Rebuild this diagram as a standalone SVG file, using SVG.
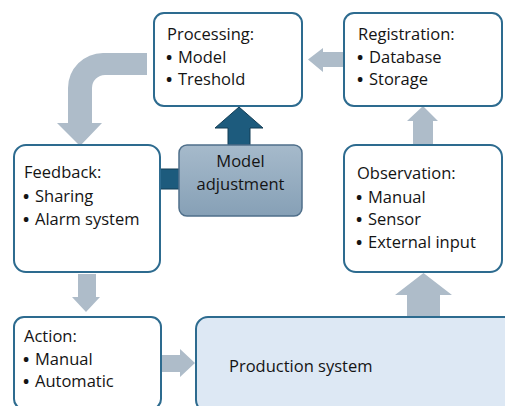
<svg xmlns="http://www.w3.org/2000/svg" width="505" height="406" viewBox="0 0 505 406">
  <defs>
    <linearGradient id="steel" x1="0" y1="0" x2="0" y2="1">
      <stop offset="0" stop-color="#a6bacb"/>
      <stop offset="1" stop-color="#86a0b6"/>
    </linearGradient>
    <style>
      .box { fill: #ffffff; stroke: #2d6b8f; stroke-width: 2; }
      .sys { fill: #dde8f4; stroke: #2d6b8f; stroke-width: 2; }
      .adj { fill: url(#steel); stroke: #4f6f8a; stroke-width: 1.5; }
      .flow { fill: #aebcc9; }
      .dark { fill: #1d5b7d; stroke: #123d55; stroke-width: 1; }
      text { font-family: "Open Sans", "Liberation Sans", sans-serif; font-size: 16.5px; fill: #141414; }
      .b { font-weight: bold; }
      .c { text-anchor: middle; }
    </style>
  </defs>

  <rect width="505" height="406" fill="#ffffff"/>

  <!-- connectors -->
  <g id="connectors">
    <!-- Processing to Feedback (bent) -->
    <path class="flow" d="M147,53 L103,53 A35,35 0 0 0 68,88 L68,123 L57,123 L80,146 L102,123 L92,123 L92,88 A13,13 0 0 1 105,75 L147,75 Z"/>
    <!-- Registration to Processing -->
    <path class="flow" d="M343,52 L323,52 L323,48 L308,59.5 L323,72 L323,67 L343,67 Z"/>
    <!-- Observation to Registration -->
    <path class="flow" d="M413,145 L413,121 L407,121 L423,106 L438,121 L433,121 L433,145 Z"/>
    <!-- Production system to Observation -->
    <path class="flow" d="M407,317 L407,295 L395,295 L423.5,273 L452,295 L440,295 L440,317 Z"/>
    <!-- Feedback to Action -->
    <path class="flow" d="M78,274 L78,297 L72,297 L86,312 L100,297 L96,297 L96,274 Z"/>
    <!-- Action to Production system -->
    <path class="flow" d="M162,355 L180,355 L180,349 L195,363 L180,377 L180,372 L162,372 Z"/>
    <!-- Model adjustment to Processing -->
    <path class="dark" d="M228,145 L228,128 L215,128 L239,107 L263,128 L250,128 L250,145 Z"/>
    <!-- Model adjustment to Feedback link -->
    <rect class="dark" x="160" y="169" width="20" height="20"/>
  </g>

  <g id="processing">
    <rect class="box" x="154" y="13" width="148" height="93" rx="10"/>
    <text x="167" y="40">Processing:</text>
    <text y="63"><tspan class="b" x="166">•</tspan><tspan x="178">Model</tspan></text>
    <text y="85"><tspan class="b" x="166">•</tspan><tspan x="178">Treshold</tspan></text>
  </g>

  <g id="registration">
    <rect class="box" x="344" y="13" width="158" height="93" rx="10"/>
    <text x="358" y="40">Registration:</text>
    <text y="63"><tspan class="b" x="357">•</tspan><tspan x="369">Database</tspan></text>
    <text y="85"><tspan class="b" x="357">•</tspan><tspan x="369">Storage</tspan></text>
  </g>

  <g id="feedback">
    <rect class="box" x="14" y="145" width="146" height="127" rx="12"/>
    <text x="24" y="178">Feedback:</text>
    <text y="202"><tspan class="b" x="23">•</tspan><tspan x="35">Sharing</tspan></text>
    <text y="225"><tspan class="b" x="23">•</tspan><tspan x="35">Alarm system</tspan></text>
  </g>

  <g id="model-adjustment">
    <rect class="adj" x="179" y="145" width="123" height="71" rx="8"/>
    <text class="c" x="240.5" y="167">Model</text>
    <text class="c" x="240.5" y="190">adjustment</text>
  </g>

  <g id="observation">
    <rect class="box" x="344" y="145" width="158" height="127" rx="12"/>
    <text x="357" y="179">Observation:</text>
    <text y="203"><tspan class="b" x="356">•</tspan><tspan x="368">Manual</tspan></text>
    <text y="225"><tspan class="b" x="356">•</tspan><tspan x="368">Sensor</tspan></text>
    <text y="248"><tspan class="b" x="356">•</tspan><tspan x="368">External input</tspan></text>
  </g>

  <g id="action">
    <rect class="box" x="14" y="317" width="147" height="92" rx="10"/>
    <text x="24" y="342">Action:</text>
    <text y="365"><tspan class="b" x="23">•</tspan><tspan x="35">Manual</tspan></text>
    <text y="387"><tspan class="b" x="23">•</tspan><tspan x="35">Automatic</tspan></text>
  </g>

  <g id="production-system">
    <rect class="sys" x="196" y="317" width="320" height="95" rx="12"/>
    <text x="229" y="372">Production system</text>
  </g>
</svg>
